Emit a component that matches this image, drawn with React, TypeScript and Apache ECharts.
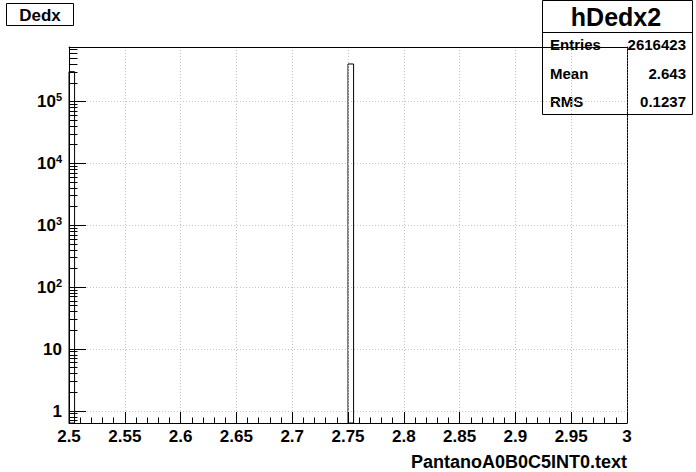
import React, { useEffect, useRef } from "react";
import * as echarts from "echarts";

// ---- data ----
const BIN_LOW = [2.5, 2.75];
const BIN_HIGH = [2.505, 2.755];
const BIN_COUNT = [3.06e5, 4.07e5];

const X_MIN = 2.5;
const X_MAX = 3;
const X_STEP = 0.05;
const Y_MIN = 0.64;
const Y_MAX = 7.66e5;
const Y_DECADES = [1, 10, 100, 1000, 10000, 100000];

const HIST_TITLE = "Dedx";
const STATS_NAME = "hDedx2";
const STATS_LABELS = ["Entries", "Mean", "RMS"];
const STATS_VALUES = ["2616423", "2.643", "0.1237"];
const X_TITLE = "PantanoA0B0C5INT0.text";

const FONT = "'Liberation Sans', Arial, Helvetica, sans-serif";

function minorLogTicks(): number[] {
  const out: number[] = [];
  for (let e = -1; e <= 5; e++) {
    for (let k = 2; k <= 9; k++) {
      const v = k * Math.pow(10, e);
      if (v > Y_MIN && v < Y_MAX) out.push(v);
    }
  }
  return out;
}

function isDecade(v: number): boolean {
  const l = Math.log10(v);
  return Math.abs(l - Math.round(l)) < 1e-9;
}

function yLabel(v: number): string {
  const e = Math.round(Math.log10(v));
  if (e === 0) return "{b|1}";
  if (e === 1) return "{b|10}";
  return "{b|10}{s|" + e + "}";
}

export default function App() {
  const ref = useRef<HTMLDivElement>(null);
  useEffect(() => {
    if (!ref.current) return;
    const chart = echarts.init(ref.current, undefined, { renderer: "svg" });
    const data = BIN_LOW.map((lo, i) => [lo, BIN_HIGH[i], BIN_COUNT[i]]);
    const yTickData = Y_DECADES.concat(minorLogTicks()).map((v) => [X_MIN, v]);
    const grid = { left: 69, right: 69, top: 47, bottom: 49 };
    const statsRowsY = [44, 73, 101];

    chart.setOption({
      animation: false,
      backgroundColor: "#fff",
      grid: { ...grid, containLabel: false },
      xAxis: [
        {
          type: "value",
          min: X_MIN,
          max: X_MAX,
          interval: X_STEP,
          position: "bottom",
          name: X_TITLE,
          nameLocation: "end",
          nameGap: 0,
          nameTextStyle: {
            fontFamily: FONT,
            fontWeight: "bold",
            fontSize: 18,
            color: "#000",
            align: "right",
            verticalAlign: "top",
            padding: [30, 0, 0, 0],
          },
          axisLine: { show: true, onZero: false, lineStyle: { color: "#000", width: 1 } },
          axisTick: { show: true, inside: true, length: 11, lineStyle: { color: "#000", width: 1 } },
          minorTick: { show: true, splitNumber: 5, length: 5.5, lineStyle: { color: "#000", width: 1 } },
          axisLabel: {
            color: "#000",
            fontFamily: FONT,
            fontWeight: "bold",
            fontSize: 17,
            margin: 5,
            formatter: (v: number) => String(+v.toFixed(3)),
          },
          splitLine: { show: true, lineStyle: { color: "#c4c4c4", type: [1, 2], width: 1 } },
          z: 5,
        },
        {
          type: "value",
          min: X_MIN,
          max: X_MAX,
          position: "top",
          axisLine: { show: true, onZero: false, lineStyle: { color: "#000", width: 1 } },
          axisTick: { show: false },
          axisLabel: { show: false },
          splitLine: { show: false },
          z: 5,
        },
      ],
      yAxis: [
        {
          type: "log",
          logBase: 10,
          min: Y_MIN,
          max: Y_MAX,
          position: "left",
          axisLine: { show: true, onZero: false, lineStyle: { color: "#000", width: 1 } },
          axisTick: { show: false },
          axisLabel: {
            customValues: Y_DECADES,
            margin: 7,
            color: "#000",
            formatter: (v: number) => yLabel(v),
            rich: {
              b: { fontFamily: FONT, fontWeight: "bold", fontSize: 17, color: "#000" },
              s: {
                fontFamily: FONT,
                fontWeight: "bold",
                fontSize: 11,
                color: "#000",
                padding: [0, 0, 9, 0],
              },
            },
          },
          splitLine: { show: true, lineStyle: { color: "#c4c4c4", type: [1, 2], width: 1 } },
          z: 5,
        },
        {
          type: "log",
          logBase: 10,
          min: Y_MIN,
          max: Y_MAX,
          position: "right",
          axisLine: { show: true, onZero: false, lineStyle: { color: "#000", width: 1, type: [2, 1] } },
          axisTick: { show: false },
          axisLabel: { show: false },
          splitLine: { show: false },
          z: 5,
        },
      ],
      series: [
        {
          type: "custom",
          xAxisIndex: 0,
          yAxisIndex: 0,
          encode: { x: [0, 1], y: 2 },
          data,
          renderItem: (_params: any, api: any) => {
            const p0 = api.coord([api.value(0), api.value(2)]);
            const p1 = api.coord([api.value(1), Y_MIN]);
            return {
              type: "rect",
              shape: { x: p0[0], y: p0[1], width: p1[0] - p0[0], height: p1[1] - p0[1] },
              style: { fill: "#fff", stroke: "#000", lineWidth: 1 },
            };
          },
          z: 3,
        },
        {
          type: "custom",
          xAxisIndex: 0,
          yAxisIndex: 0,
          encode: { x: 0, y: 1 },
          data: yTickData,
          silent: true,
          clip: false,
          renderItem: (_params: any, api: any) => {
            const v = api.value(1);
            const p = api.coord([api.value(0), v]);
            const y = Math.round(p[1] - 0.5) + 0.5;
            const len = isDecade(v) ? 17 : 8.5;
            return {
              type: "line",
              shape: { x1: p[0], y1: y, x2: p[0] + len, y2: y },
              style: { stroke: "#000", lineWidth: 1 },
            };
          },
          z: 6,
        },
      ],
      graphic: [
        {
          type: "group",
          z: 100,
          children: [
            {
              type: "rect",
              shape: { x: 6.5, y: 3.5, width: 67, height: 22 },
              style: { fill: "#fff", stroke: "#000", lineWidth: 1 },
            },
            {
              type: "text",
              x: 40,
              y: 15,
              style: {
                text: HIST_TITLE,
                fontFamily: FONT,
                fontWeight: "bold",
                fontSize: 17,
                fill: "#000",
                align: "center",
                verticalAlign: "middle",
              },
            },
            {
              type: "rect",
              shape: { x: 542.5, y: 0.5, width: 150, height: 114 },
              style: { fill: "#fff", stroke: "#000", lineWidth: 1 },
            },
            {
              type: "line",
              shape: { x1: 542.5, y1: 32.5, x2: 692.5, y2: 32.5 },
              style: { stroke: "#000", lineWidth: 1 },
            },
            {
              type: "text",
              x: 616,
              y: 17,
              style: {
                text: STATS_NAME,
                fontFamily: FONT,
                fontWeight: "bold",
                fontSize: 25,
                fill: "#000",
                align: "center",
                verticalAlign: "middle",
              },
            },
            ...STATS_LABELS.map((t, i) => ({
              type: "text",
              x: 550,
              y: statsRowsY[i],
              style: {
                text: t,
                fontFamily: FONT,
                fontWeight: "bold",
                fontSize: 15,
                fill: "#000",
                align: "left",
                verticalAlign: "middle",
              },
            })),
            ...STATS_VALUES.map((t, i) => ({
              type: "text",
              x: 686,
              y: statsRowsY[i],
              style: {
                text: t,
                fontFamily: FONT,
                fontWeight: "bold",
                fontSize: 15,
                fill: "#000",
                align: "right",
                verticalAlign: "middle",
              },
            })),
          ],
        },
      ],
    });
    return () => chart.dispose();
  }, []);
  return (
    <div
      ref={ref}
      style={{ position: "fixed", left: 0, top: 0, width: 696, height: 472 }}
    />
  );
}
